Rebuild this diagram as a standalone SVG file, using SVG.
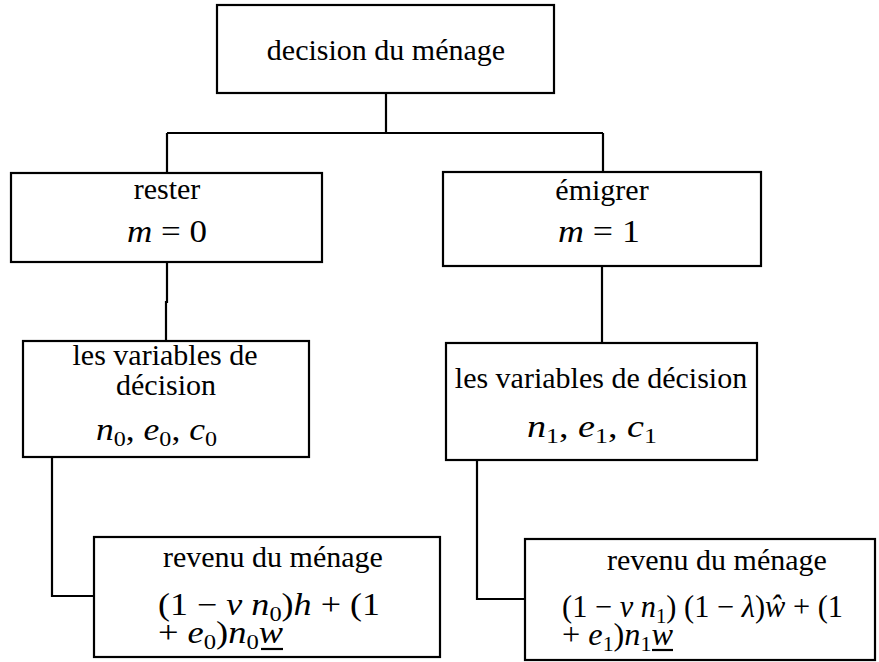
<svg xmlns="http://www.w3.org/2000/svg" width="879" height="662" viewBox="0 0 879 662">
<style>
.box{fill:#fff;stroke:#000;stroke-width:2.2}
.ln{fill:none;stroke:#000;stroke-width:2.2}
.t{font-family:'Liberation Serif','Times New Roman','DejaVu Serif',serif;font-size:30px;fill:#000}
.m{font-size:31px}
.c{text-anchor:middle}
.i{font-style:italic}
.s{font-size:21px}
</style>
<rect width="879" height="662" fill="#fff"/>
<g id="connectors">
<path class="ln" d="M386 93V133M167 133H603M167 133V173M603 133V172"/>
<path class="ln" d="M167 262V302H166V341"/>
<path class="ln" d="M602 266V343"/>
<path class="ln" d="M52 457V596H94"/>
<path class="ln" d="M477 460V599H525"/>
</g>
<g class="t">
<g id="n-top">
<rect class="box" x="217" y="5" width="337" height="88"/>
<text class="t c" x="386" y="60">decision du ménage</text>
</g>
<g id="n-rester">
<rect class="box" x="11" y="173" width="311" height="89"/>
<text class="t c" x="167" y="199">rester</text>
<text class="t m c" x="167" y="242" textLength="80" lengthAdjust="spacingAndGlyphs"><tspan class="i">m</tspan> = 0</text>
</g>
<g id="n-emigrer">
<rect class="box" x="443" y="172" width="318" height="94"/>
<text class="t c" x="602" y="200">émigrer</text>
<text class="t m c" x="599" y="242" textLength="82" lengthAdjust="spacingAndGlyphs"><tspan class="i">m</tspan> = 1</text>
</g>
<g id="n-vars0">
<rect class="box" x="23" y="341" width="286" height="116"/>
<text class="t c" x="165" y="365">les variables de</text>
<text class="t c" x="166" y="395">décision</text>
<text class="t m" x="96" y="440" textLength="121" lengthAdjust="spacingAndGlyphs"><tspan class="i">n</tspan><tspan class="s" dy="6">0</tspan><tspan dy="-6">, </tspan><tspan class="i">e</tspan><tspan class="s" dy="6">0</tspan><tspan dy="-6">, </tspan><tspan class="i">c</tspan><tspan class="s" dy="6">0</tspan></text>
</g>
<g id="n-vars1">
<rect class="box" x="446" y="343" width="311" height="117"/>
<text class="t c" x="601" y="388">les variables de décision</text>
<text class="t m" x="527" y="437" textLength="130" lengthAdjust="spacingAndGlyphs"><tspan class="i">n</tspan><tspan class="s" dy="6">1</tspan><tspan dy="-6">, </tspan><tspan class="i">e</tspan><tspan class="s" dy="6">1</tspan><tspan dy="-6">, </tspan><tspan class="i">c</tspan><tspan class="s" dy="6">1</tspan></text>
</g>
<g id="n-rev0">
<rect class="box" x="94" y="537" width="346" height="120"/>
<text class="t" x="163" y="567">revenu du ménage</text>
<text class="t m" x="158" y="615" textLength="222" lengthAdjust="spacingAndGlyphs">(1 − <tspan class="i">v n</tspan><tspan class="s" dy="6">0</tspan><tspan dy="-6">)</tspan><tspan class="i">h</tspan>  + (1</text>
<text class="t m" x="158" y="643" textLength="125" lengthAdjust="spacingAndGlyphs">+ <tspan class="i">e</tspan><tspan class="s" dy="6">0</tspan><tspan dy="-6">)</tspan><tspan class="i">n</tspan><tspan class="s" dy="6">0</tspan><tspan class="i" dy="-6">w</tspan></text>
<path class="ln" d="M261 649H283"/>
</g>
<g id="n-rev1">
<rect class="box" x="525" y="539" width="350" height="121"/>
<text class="t" x="607" y="570">revenu du ménage</text>
<text class="t m" x="562" y="617" textLength="281" lengthAdjust="spacingAndGlyphs">(1 − <tspan class="i">v n</tspan><tspan class="s" dy="6">1</tspan><tspan dy="-6">) (1 − </tspan><tspan class="i">λ</tspan>)<tspan class="i">ŵ</tspan> + (1</text>
<text class="t m" x="562" y="645" textLength="111" lengthAdjust="spacingAndGlyphs">+ <tspan class="i">e</tspan><tspan class="s" dy="6">1</tspan><tspan dy="-6">)</tspan><tspan class="i">n</tspan><tspan class="s" dy="6">1</tspan><tspan class="i" dy="-6">w</tspan></text>
<path class="ln" d="M652 650H673"/>
</g>
</g>
</svg>
